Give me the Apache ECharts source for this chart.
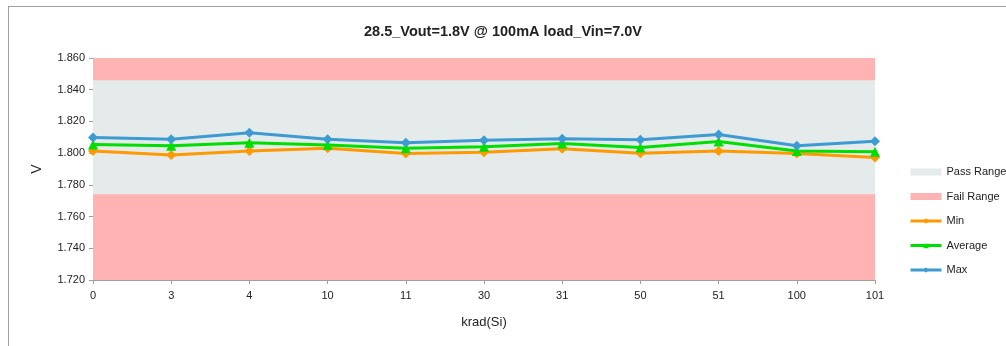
<!DOCTYPE html>
<html>
<head>
<meta charset="utf-8">
<script src="https://cdn.jsdelivr.net/npm/echarts@6/dist/echarts.min.js"></script>
<style>
html,body{margin:0;padding:0;background:#fff;}
#c{width:1006px;height:346px;}
</style>
</head>
<body>
<div id="c"></div>
<script>
var categories = ['0','3','4','10','11','30','31','50','51','100','101'];
var minV = [1.8014,1.7989,1.8014,1.8031,1.7998,1.8006,1.8027,1.8000,1.8014,1.7998,1.7973];
var avgV = [1.8055,1.8046,1.8065,1.8052,1.8031,1.8040,1.8061,1.8036,1.8073,1.8014,1.8008];
var maxV = [1.8099,1.8088,1.8128,1.8088,1.8065,1.8082,1.8090,1.8084,1.8118,1.8046,1.8075];
var passHigh = [1.846,1.846,1.846,1.846,1.846,1.846,1.846,1.846,1.846,1.846,1.846];
var passLow = [1.774,1.774,1.774,1.774,1.774,1.774,1.774,1.774,1.774,1.774,1.774];
var failTop = [1.86,1.86,1.86,1.86,1.86,1.86,1.86,1.86,1.86,1.86,1.86];
var yTicks = {min:1.72, max:1.86, interval:0.02};

var FONT = 'Liberation Sans';
var chart = echarts.init(document.getElementById('c'), null, {renderer:'canvas'});

function band(name, data, color){
  return {
    name: name, type:'line', data: data, symbol:'none', silent:true,
    lineStyle:{width:0, color: color}, itemStyle:{color: color},
    areaStyle:{color: color, opacity:1, origin:'start'}
  };
}
function line(name, data, color, symbol, size){
  return {
    name: name, type:'line', data: data, symbol: symbol, symbolSize: size,
    lineStyle:{width:3, color: color}, itemStyle:{color: color},
    z: 5
  };
}

chart.setOption({
  animation:false,
  title:{
    text:'28.5_Vout=1.8V @ 100mA load_Vin=7.0V',
    left:'center', top:19,
    textStyle:{fontFamily:FONT, fontSize:14.5, fontWeight:'bold', color:'#222'}
  },
  graphic:[
    {type:'line', shape:{x1:8, y1:6.5, x2:1006, y2:6.5}, style:{stroke:'#a0a0a0', lineWidth:1}},
    {type:'line', shape:{x1:8.5, y1:6, x2:8.5, y2:346}, style:{stroke:'#a0a0a0', lineWidth:1}}
  ],
  grid:{left:93, right:131, top:58, bottom:66},
  legend:{
    orient:'vertical', left:909, top:165, padding:0,
    itemWidth:31, itemHeight:7, itemGap:10.5,
    lineStyle:{width:3},
    textStyle:{fontFamily:FONT, fontSize:11, color:'#222', lineHeight:14},
    data:[
      {name:'Pass Range', icon:'rect'},
      {name:'Fail Range', icon:'rect'},
      'Min','Average','Max'
    ]
  },
  xAxis:{
    type:'category', data:categories, boundaryGap:false,
    name:'krad(Si)', nameLocation:'middle', nameGap:36,
    nameTextStyle:{fontFamily:FONT, fontSize:13, color:'#222'},
    axisLine:{lineStyle:{color:'#a0a0a0'}},
    axisTick:{show:true, length:4, alignWithLabel:true, lineStyle:{color:'#a0a0a0'}},
    axisLabel:{fontFamily:FONT, fontSize:11, color:'#222', margin:10}
  },
  yAxis:{
    type:'value', min:yTicks.min, max:yTicks.max, interval:yTicks.interval,
    name:'V', nameLocation:'middle', nameGap:49, nameRotate:90,
    nameTextStyle:{fontFamily:FONT, fontSize:14, color:'#222'},
    axisLine:{show:true, lineStyle:{color:'#a0a0a0'}},
    axisTick:{show:true, length:4, lineStyle:{color:'#a0a0a0'}},
    splitLine:{show:false},
    axisLabel:{fontFamily:FONT, fontSize:11, color:'#222', margin:8,
      formatter:function(v){return v.toFixed(3);}}
  },
  series:[
    band('Fail Range', failTop, '#ffb3b3'),
    band('Pass Range', passHigh, '#e5ebeb'),
    band('Fail Range', passLow, '#ffb3b3'),
    line('Min', minV, '#ff9900', 'diamond', 10),
    line('Average', avgV, '#00dd00', 'triangle', 10),
    line('Max', maxV, '#3d9bd1', 'diamond', 10)
  ]
});
</script>
</body>
</html>
